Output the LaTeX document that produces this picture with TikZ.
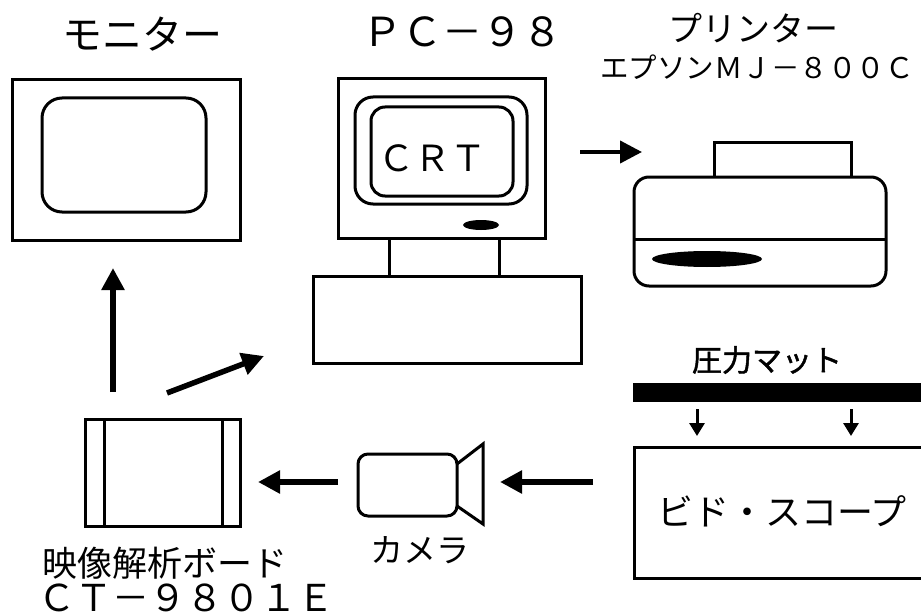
\documentclass[tikz,border=0pt]{standalone}
\usepackage{fontspec}
\setmainfont{Noto Sans CJK JP}
\newfontfamily\jpbold[FakeBold=1.6]{Noto Sans CJK JP}
\usetikzlibrary{arrows.meta,shapes.geometric}
\tikzset{
  outline/.style={draw, line width=3pt, inner sep=0pt, outer sep=0pt},
  panel/.style={outline, rounded corners=#1},
  blob/.style={ellipse, fill=black, draw=none, inner sep=0pt},
  flow/.style={line width=5.5pt, -{Triangle[length=22pt,width=22pt]}},
  feed/.style={line width=4pt, -{Triangle[length=22pt,width=22pt]}},
  press/.style={line width=3pt, -{Triangle[length=13pt,width=15pt]}},
  label/.style={inner sep=0pt, anchor=center},
}
\newcommand{\fsz}[1]{\fontsize{#1pt}{#1pt}\selectfont}
\begin{document}
\begin{tikzpicture}[x=1pt, y=-1pt]
  \clip (0,0) rectangle (921,615);
  \fill[white] (0,0) rectangle (921,615);

  % --- monitor ---
  \node[outline, minimum width=228pt, minimum height=160pt] (monitor) at (126,160) {};
  \node[panel=20pt, minimum width=164pt, minimum height=114pt] (monscreen) at (124,155) {};
  \node[label] (monlabel) at (142,34) {\fsz{40}モニター};

  % --- PC-98 ---
  \node[outline, minimum width=207pt, minimum height=159pt] (pcmon) at (441.5,158.5) {};
  \node[panel=18pt, minimum width=172pt, minimum height=107pt] (pcbezel) at (441,150.5) {};
  \node[panel=14pt, minimum width=142pt, minimum height=89pt] (pcscreen) at (442,151.5) {};
  \node[label] (crt) at (432,158) {\fsz{36}ＣＲＴ};
  \node[blob, minimum width=36pt, minimum height=10pt] (pclamp) at (481,225) {};
  \node[outline, minimum width=268pt, minimum height=87pt] (pcbase) at (447,319.5) {};
  \draw[line width=3pt] (389,238) -- (389,276) (499,238) -- (499,276);
  \node[label] (pclabel) at (462,32) {\fsz{40}ＰＣ－９８};

  % --- printer ---
  \node[outline, minimum width=137pt, minimum height=34pt] (paper) at (782.5,160) {};
  \node[panel=15pt, minimum width=252pt, minimum height=109pt, fill=white] (printer) at (760,231.5) {};
  \draw[line width=3pt] (printer.west |- 0,239) -- (printer.east |- 0,239);
  \node[blob, minimum width=110pt, minimum height=16pt] (slot) at (707,259) {};
  \node[label] (prnlabel) at (753,28) {\fsz{34}プリンター};
  \node[label] (prnmodel) at (757,67) {\fsz{28.5}エプソンＭＪ－８００Ｃ};

  % --- pressure mat and Bido-scope ---
  \node[label] (matlabel) at (767,360) {\fsz{30}\jpbold 圧力マット};
  \fill (633,383) rectangle (935,402);
  \coordinate (mat) at (784,392);
  \node[outline, minimum width=302pt, minimum height=131pt, anchor=north west] (scope) at (634,447) {};
  \node[label] (scopelabel) at (782,511) {\fsz{36}ビド・スコープ};

  % --- camera ---
  \node[panel=10pt, minimum width=99pt, minimum height=62pt] (camera) at (407.5,485) {};
  \draw[line width=3pt, line join=miter] (camera.east |- 0,464) -- (483,444) -- (483,524) -- (camera.east |- 0,506);
  \node[label] (camlabel) at (420,550) {\fsz{33}カメラ};

  % --- image analysis board ---
  \node[outline, minimum width=155pt, minimum height=107pt] (board) at (162.5,472.5) {};
  \draw[line width=3pt] (104,419) -- (104,526) (222,419) -- (222,526);
  \node[label] (boardlabel) at (165,563) {\fsz{35}映像解析ボード};
  \node[label] (boardmodel) at (186,598) {\fsz{37}ＣＴ－９８０１Ｅ};

  % --- signal flow ---
  \coordinate (scopeout) at (593,482);
  \coordinate (camin) at (500,482);
  \coordinate (camout) at (338,482);
  \coordinate (boardin) at (258,482);
  \coordinate (boardup) at (113,392);
  \coordinate (monin) at (113,268);
  \coordinate (boardpc) at (167,393);
  \coordinate (pcin) at (264,356);
  \coordinate (pcout) at (580,152);
  \coordinate (prnin) at (642,152);
  \coordinate (matl) at (697,409);
  \coordinate (scopel) at (697,436);
  \coordinate (matr) at (851,409);
  \coordinate (scoper) at (851,436);

  \draw[flow] (scopeout) -- (camin);
  \draw[flow] (camout) -- (boardin);
  \draw[flow] (boardup) -- (monin);
  \draw[flow] (boardpc) -- (pcin);
  \draw[feed] (pcout) -- (prnin);
  \draw[press] (matl) -- (scopel);
  \draw[press] (matr) -- (scoper);
\end{tikzpicture}
\end{document}
